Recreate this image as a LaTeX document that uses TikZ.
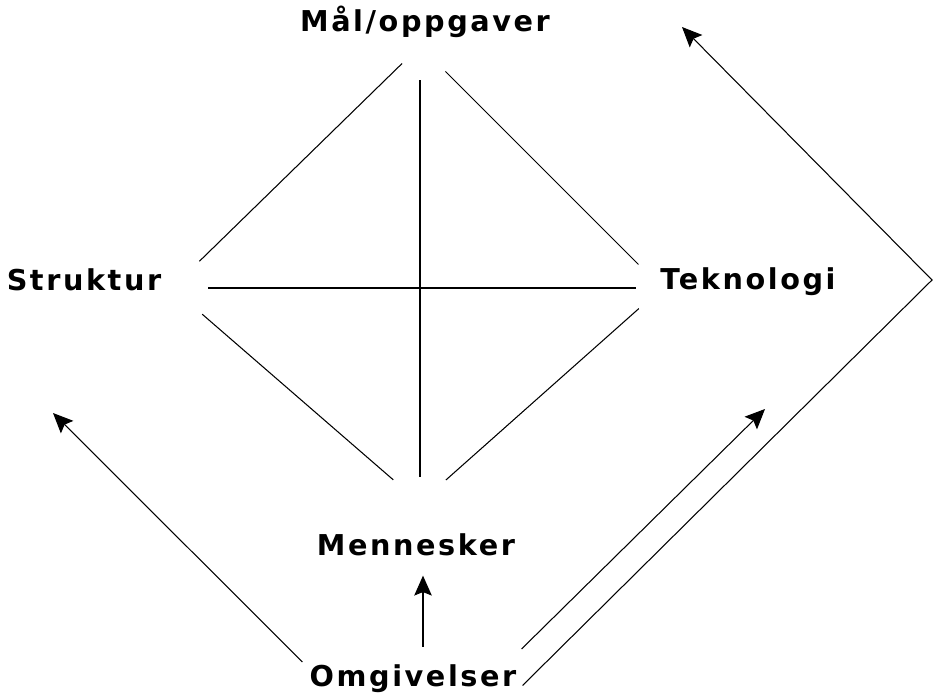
\documentclass[tikz,border=0pt]{standalone}
\usepackage{fontspec}
\usepackage{tikz}
\usetikzlibrary{arrows.meta}
\newfontfamily\diafont{DejaVu Sans}[LetterSpace=9]
\tikzstyle{omraade} = [inner sep=0pt, anchor=base, font=\diafont\bfseries\fontsize{24.5}{28}\selectfont]
\tikzstyle{linje} = [line width=0.9pt]
\tikzstyle{arrow} = [line width=0.9pt,-{Stealth[length=17pt,width=15pt,inset=3pt]}]

\begin{document}
\begin{tikzpicture}[x=0.03cm, y=-0.03cm]
\useasboundingbox (0,0) rectangle (933,693);
\node (maal) [omraade] at (425,31) {Mål/oppgaver};
\node (struktur) [omraade] at (84,290) {Struktur};
\node (teknologi) [omraade] at (748,289) {Teknologi};
\node (mennesker) [omraade] at (416,555) {Mennesker};
\node (omgivelser) [omraade] at (413,686) {Omgivelser};

\coordinate (topp) at (420,46);
\coordinate (venstre) at (172,288);
\coordinate (hoyre) at (662,288);
\coordinate (bunn) at (420,503);
\draw [linje, shorten <=0.75cm, shorten >=1.15cm] (topp) -- (venstre);
\draw [linje, shorten <=1.08cm, shorten >=1.0cm] (topp) -- (hoyre);
\draw [linje, shorten <=1.2cm, shorten >=1.06cm] (venstre) -- (bunn);
\draw [linje, shorten <=0.93cm, shorten >=1.04cm] (hoyre) -- (bunn);
\draw [linje, shorten <=1.02cm, shorten >=0.78cm] (topp) -- (bunn);
\draw [linje, shorten <=1.08cm, shorten >=0.78cm] (venstre) -- (hoyre);

\coordinate (tilStruktur) at (53,413);
\coordinate (tilTeknologi) at (765,409);
\coordinate (hjorne) at (932,280);
\coordinate (tilMaal) at (682,27);
\draw [arrow] ([shift={(10,-17)}]omgivelser.north) -- ([shift={(7,20)}]mennesker.south);
\draw [arrow] ([shift={(-7,-2)}]omgivelser.north west) -- (tilStruktur);
\draw [arrow] ([shift={(5,-15)}]omgivelser.north east) -- (tilTeknologi);
\draw [arrow] ([shift={(6,-7)}]omgivelser.south east) -- (hjorne) -- (tilMaal);
\end{tikzpicture}
\end{document}
